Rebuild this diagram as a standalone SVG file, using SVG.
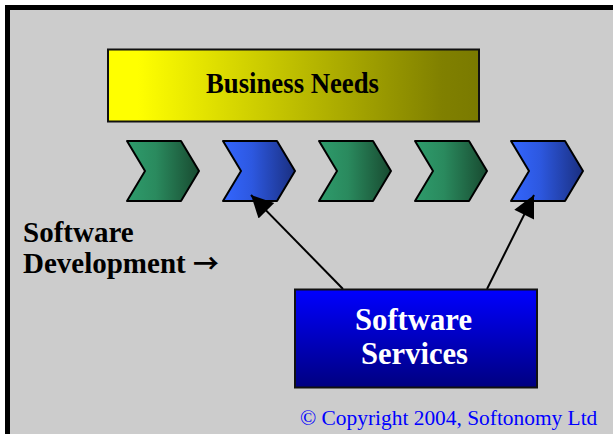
<svg xmlns="http://www.w3.org/2000/svg" width="613" height="434" viewBox="0 0 613 434">
<style>
.bold{font-family:"Liberation Serif","Times New Roman",serif;font-weight:bold}
.chev{stroke:#000;stroke-width:2;stroke-linejoin:round}
.conn{stroke:#000;stroke-width:2;fill:none}
</style>
<defs>
<linearGradient id="gYellow" x1="0" y1="0" x2="1" y2="0">
<stop offset="0" stop-color="#ffff00"/><stop offset="0.08" stop-color="#ffff00"/><stop offset="0.9" stop-color="#808000"/><stop offset="1" stop-color="#7a7a00"/>
</linearGradient>
<linearGradient id="gGreen" x1="0" y1="0" x2="1" y2="0">
<stop offset="0" stop-color="#2e9c6c"/><stop offset="0.4" stop-color="#2a8a5e"/><stop offset="1" stop-color="#184a30"/>
</linearGradient>
<linearGradient id="gBlue" x1="0" y1="0" x2="1" y2="0">
<stop offset="0" stop-color="#3366ff"/><stop offset="0.4" stop-color="#2d58e0"/><stop offset="1" stop-color="#1a2f80"/>
</linearGradient>
<linearGradient id="gNavy" x1="0" y1="0" x2="0" y2="1">
<stop offset="0" stop-color="#0000ff"/><stop offset="1" stop-color="#000080"/>
</linearGradient>
<marker id="arr" viewBox="0 0 10 10" refX="10" refY="5" markerWidth="12" markerHeight="11" markerUnits="strokeWidth" orient="auto">
<path d="M0,0 L10,5 L0,10 z" fill="#000"/>
</marker>
<polygon id="chevShape" points="0,0 54,0 72,30 54,60 0,60 18,30"/>
</defs>
<rect x="0" y="0" width="613" height="434" fill="#ffffff"/>
<rect x="5" y="5" width="608" height="429" fill="#000000"/>
<rect x="10" y="10" width="603" height="424" fill="#cccccc"/>

<g id="business-needs">
<rect x="108" y="49.5" width="371" height="72" fill="url(#gYellow)" stroke="#111" stroke-width="2"/>
<text x="206" y="93" class="bold" font-size="30" textLength="173" lengthAdjust="spacingAndGlyphs" fill="#000">Business Needs</text>
</g>

<g id="chevron-1"><use href="#chevShape" x="127" y="141" class="chev" fill="url(#gGreen)"/></g>
<g id="chevron-2"><use href="#chevShape" x="223" y="141" class="chev" fill="url(#gBlue)"/></g>
<g id="chevron-3"><use href="#chevShape" x="319" y="141" class="chev" fill="url(#gGreen)"/></g>
<g id="chevron-4"><use href="#chevShape" x="415" y="141" class="chev" fill="url(#gGreen)"/></g>
<g id="chevron-5"><use href="#chevShape" x="511" y="141" class="chev" fill="url(#gBlue)"/></g>

<g id="software-development">
<text x="23" y="242" class="bold" font-size="29" fill="#000">Software</text>
<text x="23" y="273" class="bold" font-size="29" fill="#000">Development <tspan font-family="'Noto Sans CJK SC',sans-serif" font-weight="bold" font-size="26">→</tspan></text>
</g>

<g id="connectors">
<line x1="343" y1="289" x2="251" y2="195" class="conn" marker-end="url(#arr)"/>
<line x1="487" y1="289" x2="534" y2="195" class="conn" marker-end="url(#arr)"/>
</g>

<g id="software-services">
<rect x="295" y="289.5" width="242" height="98" fill="url(#gNavy)" stroke="#111" stroke-width="2"/>
<text x="355" y="330" class="bold" font-size="32" textLength="117" lengthAdjust="spacingAndGlyphs" fill="#ffffff">Software</text>
<text x="361" y="364" class="bold" font-size="32" textLength="107" lengthAdjust="spacingAndGlyphs" fill="#ffffff">Services</text>
</g>

<g id="copyright">
<text x="300" y="425" font-family="Liberation Serif,'Times New Roman',serif" font-size="21.4" fill="#0000ff">© Copyright 2004, Softonomy Ltd</text>
</g>
</svg>
